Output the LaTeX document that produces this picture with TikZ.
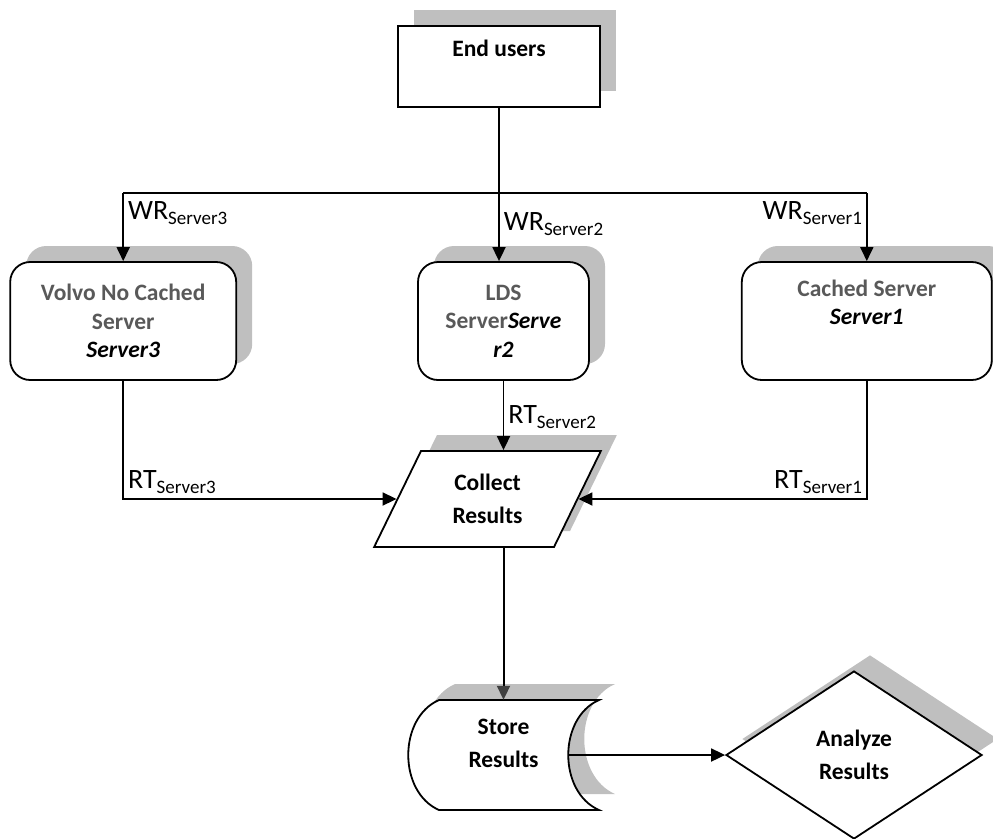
\documentclass[tikz,border=0pt]{standalone}
\usepackage{fontspec}
\setmainfont{Carlito}
\usepackage{tikz}
\usetikzlibrary{arrows.meta,calc,positioning,shapes.geometric,shadows}
\definecolor{shadowgray}{RGB}{191,191,191}
\definecolor{textgray}{RGB}{89,89,89}
\definecolor{tipgray}{RGB}{64,64,64}
\newcommand{\metric}[2]{#1\raisebox{-5pt}{\fontsize{19}{21}\selectfont #2}}
\newcommand{\storeoutline}{(-64.5,-55) -- (95.5,-55) .. controls (54.5,-37) and (54.5,37) .. (95.5,55) -- (-64.5,55) .. controls (-105.5,37) and (-105.5,-37) .. cycle}
\tikzstyle{boxfont} = [font=\bfseries\fontsize{23.5}{28.5}\selectfont, align=center]
\tikzstyle{resultfont} = [font=\bfseries\fontsize{23.5}{33}\selectfont, align=center]
\tikzstyle{metricfont} = [font=\fontsize{28}{32}\selectfont, inner sep=4pt]
\tikzstyle{grayshadow} = [drop shadow={shadow xshift=16pt, shadow yshift=16pt, fill=shadowgray, opacity=1}]
\tikzstyle{block} = [rectangle, draw, line width=1.8pt, fill=white, grayshadow, boxfont, minimum width=202pt, minimum height=81pt]
\tikzstyle{serverbox} = [rectangle, rounded corners=20pt, draw, line width=1.8pt, fill=white, grayshadow, boxfont, text=textgray, minimum height=118pt]
\tikzstyle{flow} = [-{Triangle[length=14pt,width=13pt]}, line width=1.8pt]
\tikzstyle{grayflow} = [-{Triangle[length=14pt,width=13pt,color=tipgray]}, line width=2pt]

\begin{document}
\begin{tikzpicture}[x=1pt,y=-1pt]
  \pgfmathsetmacro{\splitY}{193};
  \useasboundingbox (0,0) rectangle (993,838);
  \node[block] (EndUsers) at (499,66.5) {End users\\ \strut};
  \node[serverbox, minimum width=171pt] (LDSServer) at (503.5,321) {LDS\\Server\textcolor{black}{\itshape Serve}\\\textcolor{black}{\itshape r2}};
  \node[serverbox, minimum width=226pt, left=180pt of LDSServer] (VolvoServer) {Volvo No Cached\\Server\\\textcolor{black}{\itshape Server3}};
  \node[serverbox, minimum width=250pt, right=151pt of LDSServer] (CachedServer) {Cached Server\\\textcolor{black}{\itshape Server1}\\ \strut};
  \node[trapezium, trapezium left angle=64.4, trapezium right angle=115.6, trapezium stretches=true, draw, line width=1.8pt, fill=white, grayshadow, resultfont, minimum width=227pt, minimum height=96pt] (CollectResults) at (487.5,499) {Collect\\Results};
  % stored data shape
  \begin{scope}[shift={(503.5,755)}]
    \fill[shadowgray, shift={(16,-16)}] \storeoutline;
    \filldraw[fill=white, line width=1.8pt] \storeoutline;
    \coordinate (StoreOut) at (64.5,0);
  \end{scope}
  \node[minimum width=191pt, minimum height=110pt, label={[resultfont, yshift=12pt]center:{Store\\Results}}] (StoreResults) at (503.5,755) {};
  \node[diamond, draw, line width=1.8pt, fill=white, grayshadow, resultfont, minimum width=256pt, minimum height=168pt] (AnalyzeResults) at (854,755) {Analyze\\Results};
  %
  \coordinate (Split) at (499,\splitY);
  \draw[line width=1.8pt] (VolvoServer.north |- Split) -- (CachedServer.north |- Split);
  \draw[flow] (EndUsers.south) -- (EndUsers.south |- LDSServer.north) node[metricfont, pos=0.76, right] {\metric{WR}{Server2}};
  \draw[flow] (VolvoServer.north |- Split) -- (VolvoServer.north) node[metricfont, pos=0.3, right] {\metric{WR}{Server3}};
  \draw[flow] (CachedServer.north |- Split) -- (CachedServer.north) node[metricfont, pos=0.3, left] {\metric{WR}{Server1}};
  \draw[flow] (LDSServer.south) -- (LDSServer.south |- CollectResults.north) node[metricfont, pos=0.52, right] {\metric{RT}{Server2}};
  \draw[flow] (VolvoServer.south) |- (CollectResults.left side) node[metricfont, pos=0.5, above right] {\metric{RT}{Server3}};
  \draw[flow] (CachedServer.south) |- (CollectResults.right side) node[metricfont, pos=0.5, above left] {\metric{RT}{Server1}};
  \draw[grayflow] (CollectResults.south -| StoreResults.north) -- (StoreResults.north);
  \draw[flow] (StoreOut) -- (AnalyzeResults.west);
\end{tikzpicture}
\end{document}
